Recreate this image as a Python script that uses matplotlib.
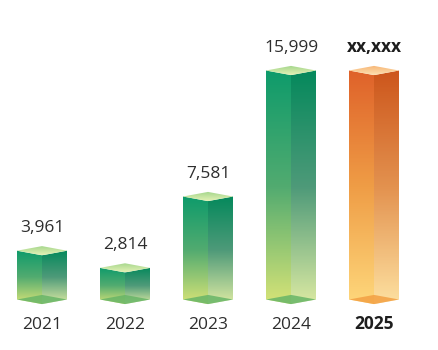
"""
3D-style prism bar chart of yearly totals, 2025 highlighted in orange.
"""
import matplotlib
matplotlib.use('Agg')
import matplotlib.pyplot as plt
import numpy as np
from matplotlib.colors import LinearSegmentedColormap
from matplotlib.patches import Polygon

# ------------------------------------------------------------
# data
# ------------------------------------------------------------
YEARS = ['2021', '2022', '2023', '2024', '2025']
VALUES = [3961, 2814, 7581, 15999, 15999]   # 2025 drawn at same height as 2024
VALUE_LABELS = ['3,961', '2,814', '7,581', '15,999', 'xx,xxx']
HIGHLIGHT = [False, False, False, False, True]

# ------------------------------------------------------------
# layout (pixels -> data units)
# ------------------------------------------------------------
FIG_W, FIG_H, DPI = 438, 350, 100
PX_X = 1 / 83.0                 # category units per pixel
PX_Y = 15999 / 239.5            # value units per pixel
HALF_W = 25 * PX_X
DEPTH = 4.6 * PX_Y              # half-height of the top/bottom diamonds
FLOOR = 10.5 * PX_Y             # bar base sits a bit above the zero line

GREEN = dict(left=['#0e9b6b', '#52ab70', '#d6e377'],
             right=['#05895c', '#4e9a79', '#dae9a2'],
             top=['#9fd58a', '#e4f1b5'], bottom='#67b567')
ORANGE = dict(left=['#df622a', '#ef9d46', '#fed77b'],
              right=['#cd561c', '#e3924f', '#fde0a0'],
              top=['#f7b474', '#fde0b0'], bottom='#f3a043')

plt.rcParams['font.family'] = ['Open Sans', 'DejaVu Sans']


def vgrad(colors, n=160):
    cmap = LinearSegmentedColormap.from_list('g', colors)
    return cmap(np.linspace(0, 1, n))[:, None, :3]


def fill_poly(ax, pts, colors, alpha=1.0, z=2):
    pts = np.asarray(pts)
    poly = Polygon(pts, closed=True, facecolor='none', edgecolor='none')
    ax.add_patch(poly)
    im = ax.imshow(vgrad(colors),
                   extent=[pts[:, 0].min(), pts[:, 0].max(),
                           pts[:, 1].min(), pts[:, 1].max()],
                   aspect='auto', origin='upper', alpha=alpha,
                   interpolation='bilinear', zorder=z)
    im.set_clip_path(poly)


def main():
    fig = plt.figure(figsize=(FIG_W / DPI, FIG_H / DPI), dpi=DPI)
    ax = fig.add_axes([0, 0, 1, 1])
    ax.set_xlim(-42 * PX_X, 4 + 64 * PX_X)
    ax.set_ylim(-40 * PX_Y, 310 * PX_Y)
    ax.axis('off')

    for i, (yr, v, lab, hl) in enumerate(zip(YEARS, VALUES, VALUE_LABELS, HIGHLIGHT)):
        c = ORANGE if hl else GREEN
        xl, xc, xr = i - HALF_W, i, i + HALF_W
        bot, top = FLOOR, v

        # front faces
        fill_poly(ax, [(xl, bot), (xc, bot - DEPTH), (xc, top - DEPTH), (xl, top)],
                  c['left'])
        fill_poly(ax, [(xc, bot - DEPTH), (xr, bot), (xr, top), (xc, top - DEPTH)],
                  c['right'])
        # floor diamond seen through the transparent box
        ax.add_patch(Polygon([(xl, bot), (xc, bot + DEPTH), (xr, bot), (xc, bot - DEPTH)],
                             closed=True, facecolor=c['bottom'], edgecolor='none',
                             alpha=0.85, zorder=3))
        # top diamond
        fill_poly(ax, [(xl, top), (xc, top + DEPTH), (xr, top), (xc, top - DEPTH)],
                  c['top'], z=4)

        weight = 'bold' if hl else 'normal'
        col = '#1e1e1e' if hl else '#2e2e2e'
        ax.text(xc, top + 19 * PX_Y, lab, ha='center', va='baseline',
                fontsize=12.5, color=col, fontweight=weight)
        ax.text(xc, -19 * PX_Y, yr, ha='center', va='baseline',
                fontsize=12.5, color=col, fontweight=weight)

    fig.savefig('out.png', dpi=DPI, facecolor='white')


if __name__ == '__main__':
    main()
